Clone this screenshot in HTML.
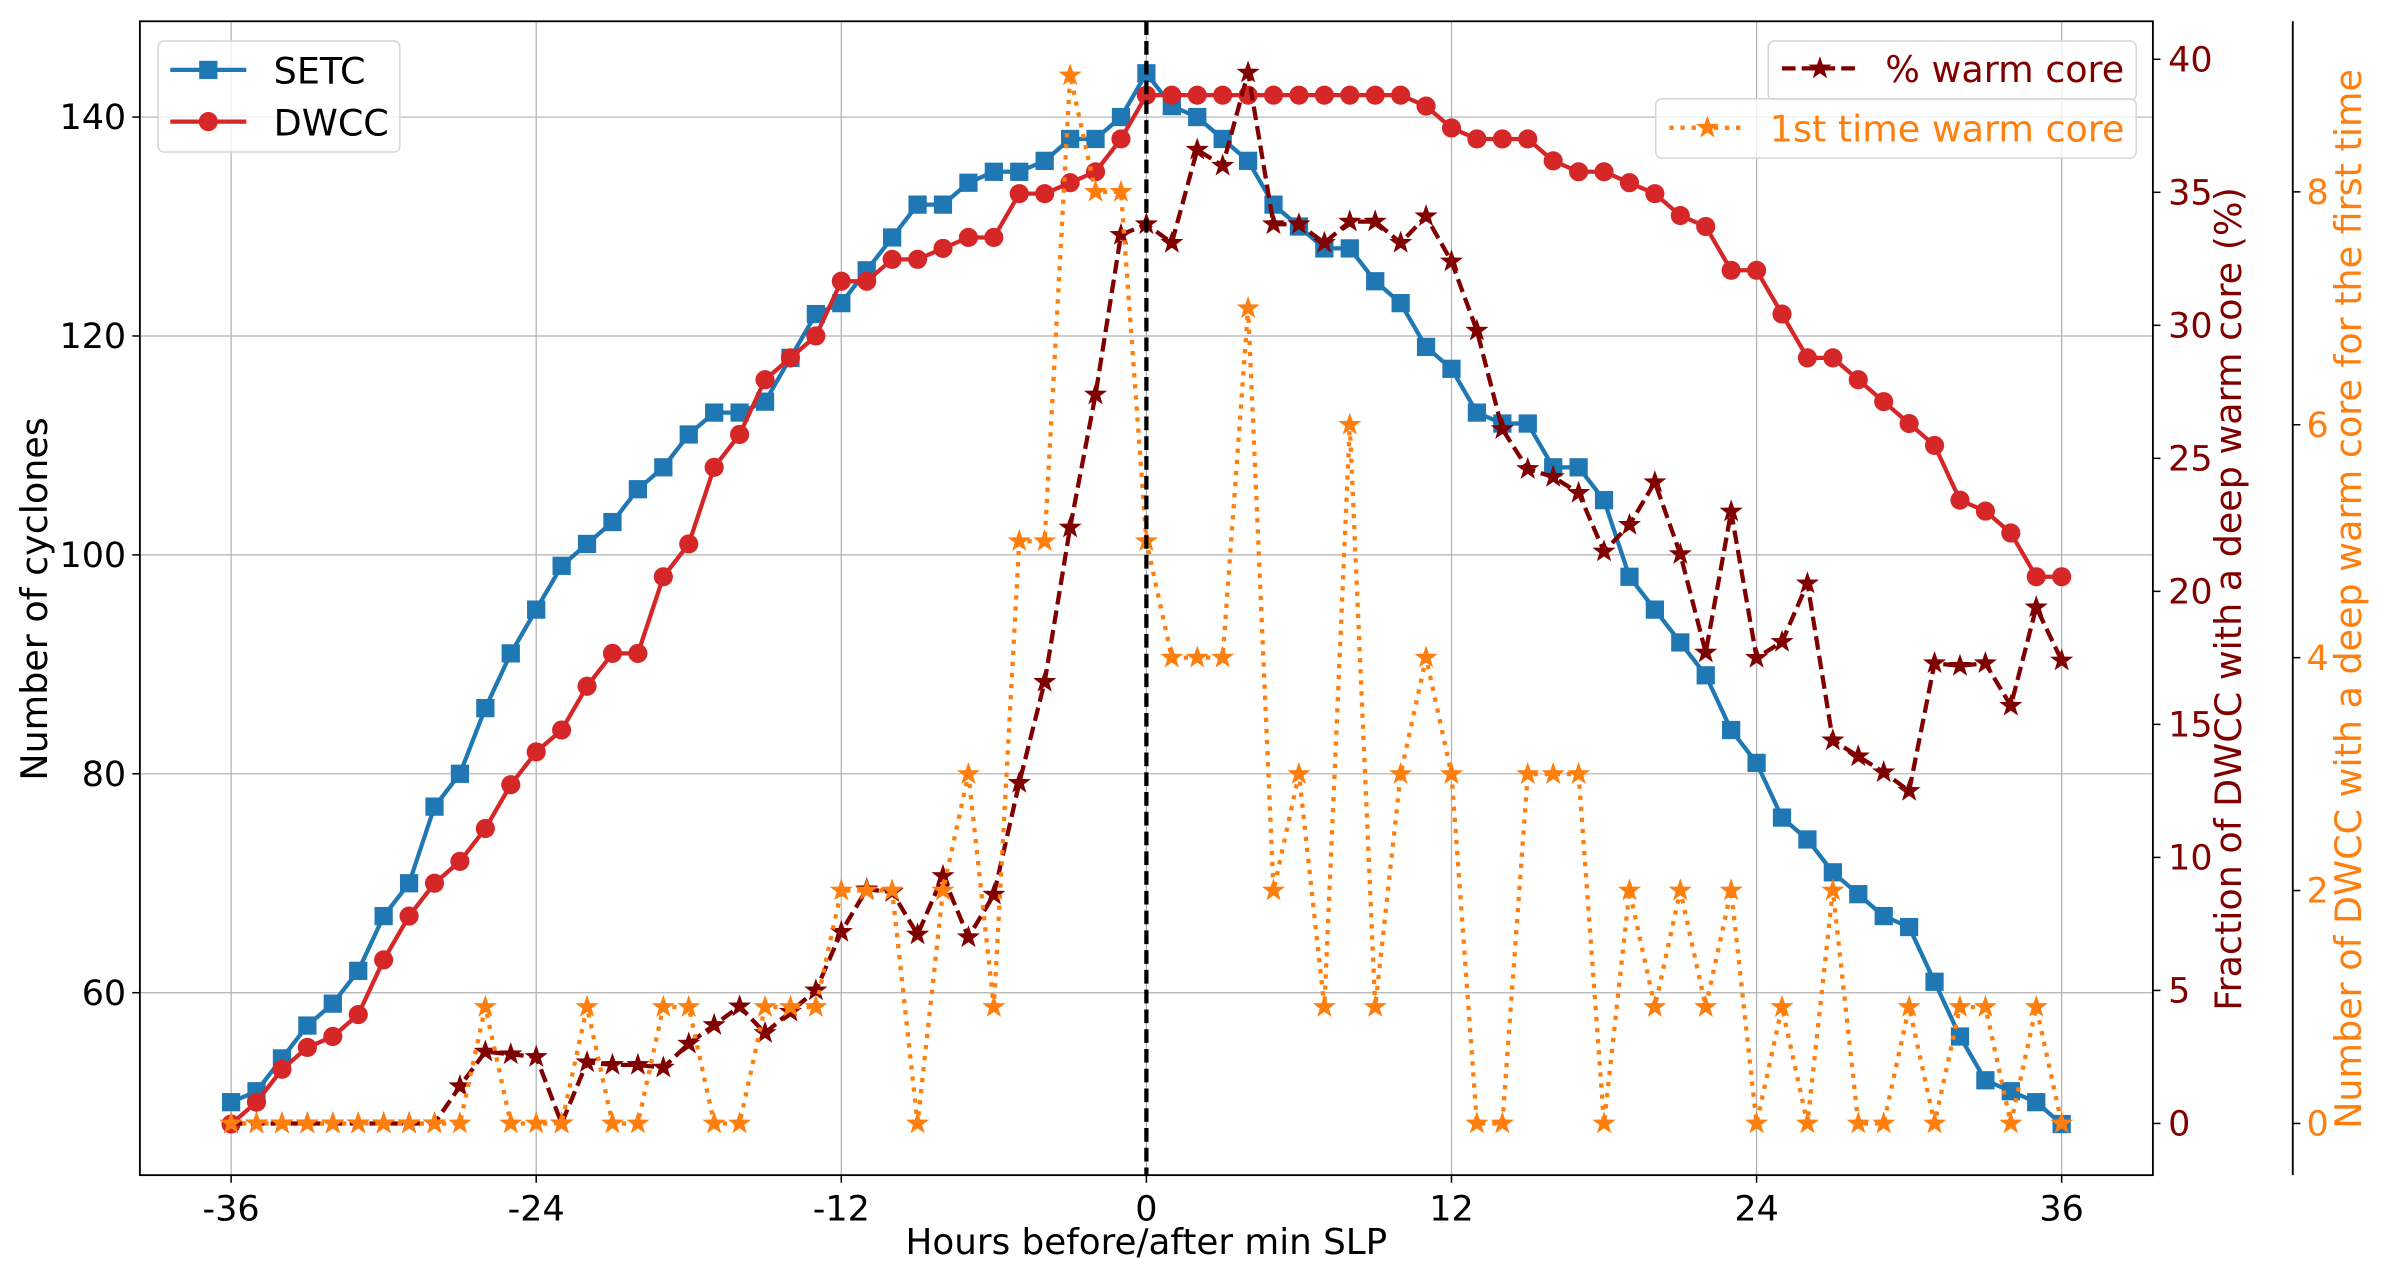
<!DOCTYPE html>
<html><head><meta charset="utf-8"><style>
html,body{margin:0;padding:0;background:#fff}
svg{display:block}
text{font-family:"DejaVu Sans","Liberation Sans",sans-serif}
</style></head><body>
<svg id="chart" width="2384" height="1277" viewBox="0 0 1568 840" preserveAspectRatio="none" xmlns="http://www.w3.org/2000/svg">
<g id="grid"></g>
<g id="series"></g>
<g id="axes"></g>
</svg>
<script>
const hours = [];
for (let h = -36; h <= 36; h++) hours.push(h);
const setc = [50,51,54,57,59,62,67,70,77,80,86,91,95,99,101,103,106,108,111,113,113,114,118,122,123,126,129,132,132,134,135,135,136,138,138,140,144,141,140,138,136,132,130,128,128,125,123,119,117,113,112,112,108,108,105,98,95,92,89,84,81,76,74,71,69,67,66,61,56,52,51,50,48];
const dwcc = [48,50,53,55,56,58,63,67,70,72,75,79,82,84,88,91,91,98,101,108,111,116,118,120,125,125,127,127,128,129,129,133,133,134,135,138,142,142,142,142,142,142,142,142,142,142,142,141,139,138,138,138,136,135,135,134,133,131,130,126,126,122,118,118,116,114,112,110,105,104,102,98,98];
const pctWarm = [0,0,0,0,0,0,0,0,0,1.4,2.7,2.6,2.5,0,2.3,2.2,2.2,2.1,3.0,3.7,4.4,3.4,4.2,5.0,7.2,8.8,8.7,7.1,9.3,7.0,8.6,12.8,16.6,22.4,27.4,33.4,33.8,33.1,36.6,36.0,39.5,33.8,33.8,33.1,33.9,33.9,33.1,34.1,32.4,29.8,26.1,24.6,24.3,23.7,21.5,22.5,24.1,21.4,17.7,23.0,17.5,18.1,20.3,14.4,13.8,13.2,12.5,17.3,17.2,17.3,15.7,19.4,17.4];
const firstWarm = [0,0,0,0,0,0,0,0,0,0,1,0,0,0,1,0,0,1,1,0,0,1,1,1,2,2,2,0,2,3,1,5,5,9,8,8,5,4,4,4,7,2,3,1,6,1,3,4,3,0,0,3,3,3,0,2,1,2,1,2,0,1,0,2,0,0,1,0,1,1,0,1,0];
const xTicks = [-36,-24,-12,0,12,24,36];
const yTicks = [60,80,100,120,140];
const pTicks = [0,5,10,15,20,25,30,35,40];
const cTicks = [0,2,4,6,8];

const X = h => 754 + (h) * (1204/72);
const Y = v => 77 + (140 - v) * 7.2;
const YP = p => 739 - p * 17.5;
const YC = c => 739 - c * 76.6;
const L=92,R=1416,T=14,B=773;
const NS="http://www.w3.org/2000/svg";
function el(tag, attrs, parent){const e=document.createElementNS(NS,tag);for(const k in attrs)e.setAttribute(k,attrs[k]);parent.appendChild(e);return e;}
const grid=document.getElementById('grid'), ser=document.getElementById('series'), ax=document.getElementById('axes');

xTicks.forEach(t=>{const g=el('line',{x1:X(t),x2:X(t),y1:T,y2:B,stroke:'#b0b0b0','stroke-width':0.8},grid);

});
yTicks.forEach(t=>{const g=el('line',{x1:L,x2:R,y1:Y(t),y2:Y(t),stroke:'#b0b0b0','stroke-width':0.8},grid);

});

function star(cx,cy,r,fill,parent){
  let pts=[];for(let i=0;i<10;i++){const rr=i%2?r*0.4:r;const a=-Math.PI/2+i*Math.PI/5;pts.push((cx+rr*Math.cos(a)).toFixed(2)+','+(cy+rr*Math.sin(a)).toFixed(2));}
  return el('polygon',{points:pts.join(' '),fill:fill},parent);
}
function drawLine(vals,yf,color,dash,name){
  const g=el('g',{},ser);
  
  
  const d=vals.map((v,i)=>(i?'L':'M')+X(hours[i]).toFixed(2)+','+yf(v).toFixed(2)).join(' ');
  const p=el('path',{d:d,fill:'none',stroke:color,'stroke-width':2.8,'stroke-linejoin':'round'},g);
  if(dash)p.setAttribute('stroke-dasharray',dash);
  
  
  return g;
}
let g=drawLine(setc,Y,'#1f77b4',null,'setc-series');
setc.forEach((v,i)=>{const m=el('rect',{x:X(hours[i])-6,y:Y(v)-6,width:12,height:12,fill:'#1f77b4'},g);

});
g=drawLine(dwcc,Y,'#d62728',null,'dwcc-series');
dwcc.forEach((v,i)=>{const m=el('circle',{cx:X(hours[i]),cy:Y(v),r:6.3,fill:'#d62728'},g);

});
const lg1=el('g',{},ser);


el('rect',{x:104,y:27,width:159,height:73,rx:4,fill:'#fff','fill-opacity':0.8,stroke:'#d6d6d6','stroke-width':1},lg1);
el('line',{x1:112,x2:162,y1:46,y2:46,stroke:'#1f77b4','stroke-width':2.8},lg1);
el('rect',{x:131,y:40,width:12,height:12,fill:'#1f77b4'},lg1);
let t=el('text',{x:180,y:55,'font-size':24,fill:'#000'},lg1);t.textContent='SETC';


el('line',{x1:112,x2:162,y1:80,y2:80,stroke:'#d62728','stroke-width':2.8},lg1);
el('circle',{cx:137,cy:80,r:6.3,fill:'#d62728'},lg1);
t=el('text',{x:180,y:89,'font-size':24,fill:'#000'},lg1);t.textContent='DWCC';


g=drawLine(pctWarm,YP,'#800000','9,4','pct-warm-core-series');
pctWarm.forEach((v,i)=>{const m=star(X(hours[i]),YP(v),8,'#800000',g);

});
g=drawLine(firstWarm,YC,'#ff7f0e','2.8,4.5','first-warm-core-series');
firstWarm.forEach((v,i)=>{const m=star(X(hours[i]),YC(v),8,'#ff7f0e',g);

});
const zl=el('line',{x1:X(0),x2:X(0),y1:T,y2:B,stroke:'#000','stroke-width':2.8,'stroke-dasharray':'9,4'},ser);


const lg2=el('g',{},ser);


el('rect',{x:1163,y:27,width:242,height:39,rx:4,fill:'#fff','fill-opacity':0.8,stroke:'#d6d6d6','stroke-width':1},lg2);
el('line',{x1:1172,x2:1222,y1:45,y2:45,stroke:'#800000','stroke-width':2.8,'stroke-dasharray':'9,4'},lg2);
star(1197,45,8,'#800000',lg2);
t=el('text',{x:1240,y:54,'font-size':24,fill:'#800000'},lg2);t.textContent='% warm core';


const lg3=el('g',{},ser);


el('rect',{x:1089,y:65,width:316,height:39,rx:4,fill:'#fff','fill-opacity':0.8,stroke:'#d6d6d6','stroke-width':1},lg3);
el('line',{x1:1098,x2:1148,y1:84,y2:84,stroke:'#ff7f0e','stroke-width':2.8,'stroke-dasharray':'2.8,4.5'},lg3);
star(1123,84,8,'#ff7f0e',lg3);
t=el('text',{x:1164,y:93,'font-size':24,fill:'#ff7f0e'},lg3);t.textContent='1st time warm core';



el('rect',{x:L,y:T,width:R-L,height:B-T,fill:'none',stroke:'#000','stroke-width':1.2},ax);
el('line',{x1:1508,x2:1508,y1:T,y2:B,stroke:'#000','stroke-width':1.2},ax);
xTicks.forEach(v=>{el('line',{x1:X(v),x2:X(v),y1:B,y2:B+5,stroke:'#000','stroke-width':1},ax);
const tx=el('text',{x:X(v),y:B+30,'font-size':23,'text-anchor':'middle'},ax);tx.textContent=v;

});
yTicks.forEach(v=>{el('line',{x1:L-5,x2:L,y1:Y(v),y2:Y(v),stroke:'#000','stroke-width':1},ax);
const tx=el('text',{x:L-9,y:Y(v)+8,'font-size':23,'text-anchor':'end'},ax);tx.textContent=v;

});
pTicks.forEach(v=>{el('line',{x1:R,x2:R+5,y1:YP(v),y2:YP(v),stroke:'#000','stroke-width':1},ax);
const tx=el('text',{x:R+10,y:YP(v)+8,'font-size':23,fill:'#800000'},ax);tx.textContent=v;

});
cTicks.forEach(v=>{el('line',{x1:1508,x2:1513,y1:YC(v),y2:YC(v),stroke:'#000','stroke-width':1},ax);
const tx=el('text',{x:1517,y:YC(v)+8,'font-size':23,fill:'#ff7f0e'},ax);tx.textContent=v;

});
let a=el('text',{x:754,y:825,'font-size':23.5,'text-anchor':'middle'},ax);a.textContent='Hours before/after min SLP';


a=el('text',{x:0,y:0,'font-size':24,'text-anchor':'middle',transform:'translate(31,394) rotate(-90)'},ax);a.textContent='Number of cyclones';


a=el('text',{x:0,y:0,'font-size':24,'text-anchor':'middle',fill:'#800000',transform:'translate(1474,394) rotate(-90)'},ax);a.textContent='Fraction of DWCC with a deep warm core (%)';


a=el('text',{x:0,y:0,'font-size':24,'text-anchor':'middle',fill:'#ff7f0e',transform:'translate(1553,394) rotate(-90)'},ax);a.textContent='Number of DWCC with a deep warm core for the first time';


</script>
</body></html>
